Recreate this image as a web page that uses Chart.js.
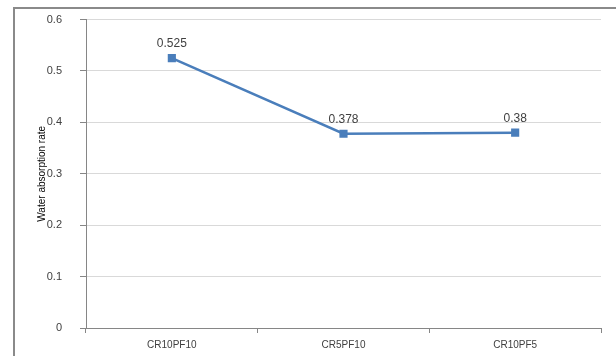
<!DOCTYPE html>
<html>
<head>
<meta charset="utf-8">
<script src="https://cdn.jsdelivr.net/npm/chart.js@4"></script>
<style>
  html, body { margin: 0; padding: 0; background: #fff; }
  #wrap { position: relative; width: 616px; height: 356px; overflow: hidden; }
  #frame { position: absolute; left: 13px; top: 7px; width: 620px; height: 360px;
           border-left: 2px solid #8a8a8a; border-top: 2px solid #8a8a8a; box-sizing: border-box; }
  canvas { position: absolute; left: 0; top: -5px; }
</style>
</head>
<body>
<div id="wrap">
  <div id="frame"></div>
  <canvas id="c" width="616" height="361"></canvas>
</div>
<script>
const categories = ["CR10PF10", "CR5PF10", "CR10PF5"];
const waterAbsorption = [0.525, 0.378, 0.38];
const yTicks = [0, 0.1, 0.2, 0.3, 0.4, 0.5, 0.6];
const yTitle = "Water absorption rate";

const FONT = "'Liberation Sans', Arial, sans-serif";

const dataLabels = {
  id: 'dataLabels',
  afterDatasetsDraw(chart) {
    const ctx = chart.ctx;
    const meta = chart.getDatasetMeta(0);
    ctx.save();
    ctx.font = "12px " + FONT;
    ctx.fillStyle = "#404040";
    ctx.textAlign = "center";
    ctx.textBaseline = "middle";
    meta.data.forEach((pt, i) => {
      ctx.fillText(String(waterAbsorption[i]), pt.x, pt.y - 14);
    });
    ctx.restore();
  }
};

new Chart(document.getElementById('c'), {
  type: 'line',
  data: {
    labels: categories,
    datasets: [{
      data: waterAbsorption,
      borderColor: '#4A7EBB',
      backgroundColor: '#4A7EBB',
      borderWidth: 2.5,
      pointStyle: 'rect',
      pointRadius: 4,
      pointHoverRadius: 4,
      tension: 0,
      fill: false
    }]
  },
  options: {
    responsive: false,
    animation: false,
    devicePixelRatio: 1,
    layout: { padding: { left: 36, right: 15, top: 9, bottom: 0 } },
    plugins: { legend: { display: false }, tooltip: { enabled: false } },
    scales: {
      x: {
        type: 'category',
        offset: true,
        grid: { offset: true, drawOnChartArea: false, drawTicks: true, tickLength: 5, tickColor: '#868686' },
        border: { color: '#868686', width: 1 },
        ticks: { font: { family: FONT, size: 10 }, color: '#404040', padding: 6, maxRotation: 0 },
        afterFit(s) { s.height = 28; }
      },
      y: {
        min: 0, max: 0.6,
        afterBuildTicks(s) { s.ticks = yTicks.map(v => ({ value: v })); },
        grid: { color: '#d9d9d9', lineWidth: 1, drawTicks: true, tickLength: 6, tickColor: '#868686' },
        border: { color: '#868686', width: 1 },
        ticks: { font: { family: FONT, size: 11 }, color: '#404040', padding: 18,
                 callback: v => String(v) },
        title: { display: true, text: yTitle, font: { family: FONT, size: 10 }, color: '#000', padding: { top: 0, bottom: 0 } },
        afterFit(s) { s.width = 50; }
      }
    }
  },
  plugins: [dataLabels]
});
</script>
</body>
</html>
